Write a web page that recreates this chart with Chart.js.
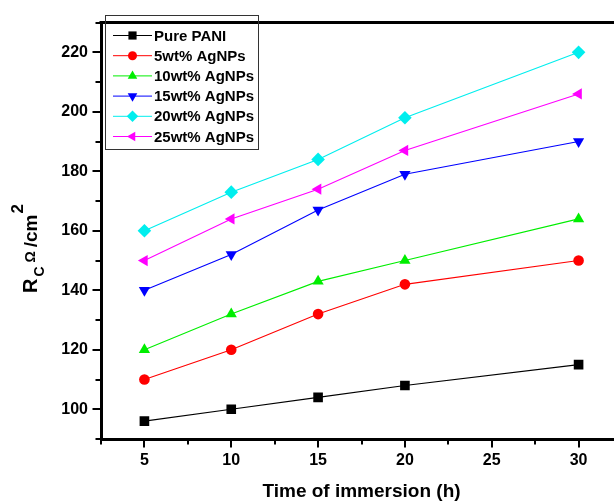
<!DOCTYPE html>
<html>
<head>
<meta charset="utf-8">
<script src="https://cdn.jsdelivr.net/npm/chart.js@4"></script>
<style>
  html, body { margin: 0; padding: 0; background: #fff; overflow: hidden; }
  #wrap { width: 614px; height: 503px; overflow: hidden; }
</style>
</head>
<body>
<div id="wrap"><canvas id="chart" width="630" height="503"></canvas></div>
<script>
// time of immersion (h)
const hours = [5, 10, 15, 20, 30];

const seriesNames = ['Pure PANI', '5wt% AgNPs', '10wt% AgNPs', '15wt% AgNPs', '20wt% AgNPs', '25wt% AgNPs'];
const purePani = [96, 100, 104, 108, 115];
const ag5 = [110, 120, 132, 142, 150];
const ag10 = [120, 132, 143, 150, 164];
const ag15 = [140, 152, 167, 179, 190];
const ag20 = [160, 173, 184, 198, 220];
const ag25 = [150, 164, 174, 187, 206];

const xTicks = [5, 10, 15, 20, 25, 30];
const yTicks = [100, 120, 140, 160, 180, 200, 220];

const colors = ['#000000', '#ff0000', '#00ee00', '#0000ff', '#00eeee', '#ff00ff'];
const markers = [
  { style: 'rect', rot: 0, r: 6.8 },
  { style: 'circle', rot: 0, r: 5.3 },
  { style: 'triangle', rot: 0, r: 6.5 },
  { style: 'triangle', rot: 180, r: 6.5 },
  { style: 'rectRot', rot: 0, r: 6.8 },
  { style: 'triangle', rot: 270, r: 6.5 }
];

const allValues = [purePani, ag5, ag10, ag15, ag20, ag25];

const datasets = allValues.map((vals, i) => ({
  label: seriesNames[i],
  data: hours.map((h, j) => ({ x: h, y: vals[j] })),
  borderColor: colors[i],
  backgroundColor: colors[i],
  borderWidth: 1.1,
  pointStyle: markers[i].style,
  rotation: markers[i].rot,
  pointRadius: markers[i].r,
  pointBorderWidth: 0,
  tension: 0
}));

const FAM = '"Liberation Sans", Arial, sans-serif';

// frame, minor ticks, legend and axis titles
const decor = {
  id: 'decor',
  afterDraw(chart) {
    const { ctx, chartArea: a, scales: { x, y } } = chart;
    ctx.save();
    ctx.strokeStyle = '#000';
    ctx.lineWidth = 3;
    ctx.beginPath();
    ctx.moveTo(a.left - 1.5, a.top);
    ctx.lineTo(a.right + 1.5, a.top);
    ctx.moveTo(a.right, a.top);
    ctx.lineTo(a.right, a.bottom);
    ctx.stroke();

    // tick marks
    ctx.lineWidth = 2;
    ctx.beginPath();
    for (let v = 2.5; v <= 32.5; v += 2.5) {
      const px = Math.round(x.getPixelForValue(v));
      const len = (v % 5 === 0) ? 7 : 4;
      ctx.moveTo(px, a.bottom);
      ctx.lineTo(px, a.bottom + 1.5 + len);
    }
    for (let v = 90; v <= 230; v += 10) {
      const py = Math.round(y.getPixelForValue(v));
      const len = (v % 20 === 0) ? 7 : 4;
      ctx.moveTo(a.left, py);
      ctx.lineTo(a.left - 1.5 - len, py);
    }
    ctx.stroke();

    // legend
    ctx.lineWidth = 1;
    ctx.strokeStyle = '#333';
    ctx.strokeRect(105.5, 15.5, 153, 134);
    ctx.font = 'bold 15px ' + FAM;
    ctx.textBaseline = 'middle';
    ctx.textAlign = 'left';
    chart.data.datasets.forEach((ds, i) => {
      const ly = 35.5 + i * 20.2;
      ctx.strokeStyle = ds.borderColor;
      ctx.lineWidth = 1;
      ctx.beginPath();
      ctx.moveTo(113, ly);
      ctx.lineTo(152, ly);
      ctx.stroke();
      ctx.fillStyle = ds.backgroundColor;
      Chart.helpers.drawPoint(ctx, {
        pointStyle: ds.pointStyle,
        rotation: ds.rotation,
        radius: ds.pointRadius * 0.85,
        borderWidth: 0
      }, 132.5, ly);
      ctx.fillStyle = '#000';
      ctx.fillText(ds.label, 154, ly + 1);
    });

    // x title
    ctx.fillStyle = '#000';
    ctx.textBaseline = 'alphabetic';
    ctx.textAlign = 'center';
    ctx.font = 'bold 19px ' + FAM;
    ctx.fillText('Time of immersion (h)', (a.left + a.right) / 2, 497);

    // y title: R_C Ω/cm^2
    ctx.translate(37, 293);
    ctx.rotate(-Math.PI / 2);
    ctx.textAlign = 'left';
    let p = 0;
    const part = (txt, size, dy, gap) => {
      ctx.font = 'bold ' + size + 'px ' + FAM;
      ctx.fillText(txt, p, dy);
      p += ctx.measureText(txt).width + gap;
    };
    part('R', 20, 0, 2);
    part('C', 14, 7, 4);
    part('Ω', 14, -2, 4);
    part('/cm', 19, 0, 1);
    part('2', 17, -14, 0);
    ctx.restore();
  }
};

new Chart(document.getElementById('chart'), {
  type: 'line',
  data: { datasets },
  options: {
    responsive: false,
    animation: false,
    layout: { padding: { left: 0, top: 13, right: 8, bottom: 0 } },
    plugins: { legend: { display: false }, tooltip: { enabled: false } },
    scales: {
      x: {
        type: 'linear',
        min: 2.5,
        max: 32.5,
        afterBuildTicks: s => { s.ticks = xTicks.map(v => ({ value: v })); },
        afterFit: s => { s.height = 64; },
        grid: { display: false, drawTicks: false },
        border: { display: true, color: '#000', width: 3 },
        ticks: { color: '#000', font: { family: FAM, size: 16, weight: 'bold' }, padding: 12, maxRotation: 0 }
      },
      y: {
        type: 'linear',
        min: 90,
        max: 230,
        afterBuildTicks: s => { s.ticks = yTicks.map(v => ({ value: v })); },
        afterFit: s => { s.width = 101; },
        grid: { display: false, drawTicks: false },
        border: { display: true, color: '#000', width: 3 },
        ticks: { color: '#000', font: { family: FAM, size: 16, weight: 'bold' }, padding: 13 }
      }
    }
  },
  plugins: [decor]
});
</script>
</body>
</html>
